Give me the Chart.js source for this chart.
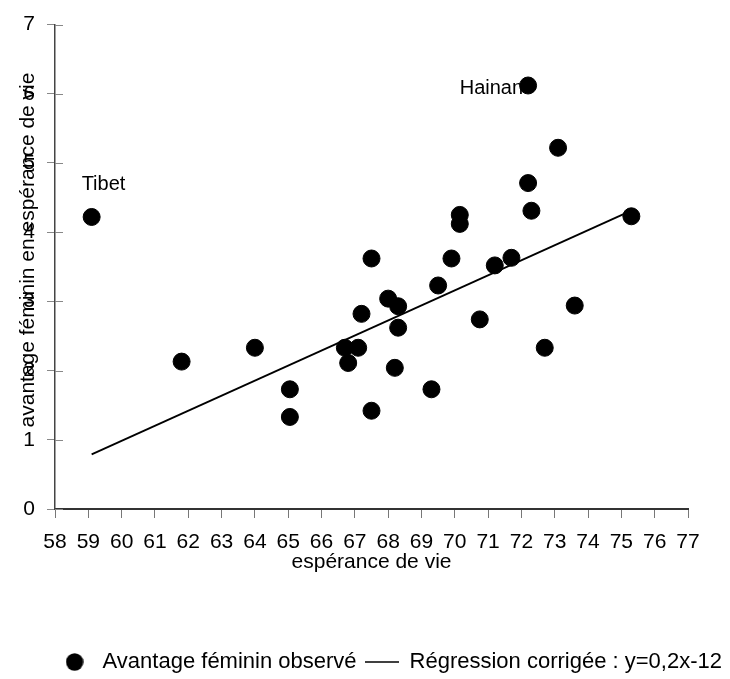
<!DOCTYPE html>
<html>
<head>
<meta charset="utf-8">
<script src="https://cdn.jsdelivr.net/npm/chart.js@4.4.1/dist/chart.umd.min.js"></script>
<style>
  html, body { margin: 0; padding: 0; background: #fff; }
</style>
</head>
<body>
<canvas id="myChart" width="730" height="679"></canvas>
<script>
// espérance de vie (x) / avantage féminin (y), une valeur par province
const esperance = [59.1, 72.2, 73.1, 72.2, 72.3, 70.15, 70.15, 75.3, 67.5, 69.9,
                   71.2, 71.7, 69.5, 68.0, 68.3, 67.2, 68.3, 70.75, 73.6, 72.7,
                   61.8, 64.0, 66.7, 67.1, 66.8, 68.2, 65.05, 65.05, 67.5, 69.3];
const avantage  = [4.22, 6.12, 5.22, 4.71, 4.31, 4.25, 4.12, 4.23, 3.62, 3.62,
                   3.52, 3.63, 3.23, 3.04, 2.93, 2.82, 2.62, 2.74, 2.94, 2.33,
                   2.13, 2.33, 2.33, 2.33, 2.11, 2.04, 1.73, 1.33, 1.42, 1.73];
// provinces nommées sur le graphique (indice dans les tableaux ci-dessus)
const nomsProvinces = ['Tibet', 'Hainan'];
const indicesNoms   = [0, 1];
// droite de régression (extrémités)
const regX = [59.1, 75.25];
const regY = [0.79, 4.3];

const series = ['Avantage féminin observé', 'Régression corrigée : y=0,2x-12'];
const titreY = 'avantage féminin en espérance de vie';

const POLICE = "'Liberation Sans', Arial, sans-serif";
Chart.defaults.font.family = POLICE;
Chart.defaults.font.size = 21;
Chart.defaults.color = '#000';

// symboles de la légende
const pastille = document.createElement('canvas');
pastille.width = 18; pastille.height = 18;
(function() {
  const c = pastille.getContext('2d');
  c.fillStyle = '#000';
  c.beginPath(); c.arc(9, 9, 8.7, 0, Math.PI * 2); c.fill();
})();
const trait = document.createElement('canvas');
trait.width = 34; trait.height = 4;
(function() {
  const c = trait.getContext('2d');
  c.strokeStyle = '#000'; c.lineWidth = 1.5;
  c.beginPath(); c.moveTo(0, 2); c.lineTo(34, 2); c.stroke();
})();

// noms des provinces, graduations intérieures de l'axe y, titre vertical
const etiquettes = {
  id: 'etiquettes',
  beforeDatasetsDraw(chart) {
    const {ctx, scales: {x, y}} = chart;
    ctx.save();
    // petites graduations côté intérieur
    ctx.strokeStyle = '#888';
    ctx.lineWidth = 1;
    y.ticks.forEach(t => {
      const py = Math.round(y.getPixelForValue(t.value)) + 0.5;
      ctx.beginPath(); ctx.moveTo(x.left, py); ctx.lineTo(x.left + 8, py); ctx.stroke();
    });
    ctx.font = '20px ' + POLICE;
    ctx.fillStyle = '#000';
    ctx.textBaseline = 'middle';
    indicesNoms.forEach((idx, k) => {
      const px = x.getPixelForValue(esperance[idx]);
      const py = y.getPixelForValue(avantage[idx]);
      if (k === 0) {
        ctx.textAlign = 'left';
        ctx.fillText(nomsProvinces[k], px - 10, py - 32);
      } else {
        ctx.textAlign = 'right';
        ctx.fillText(nomsProvinces[k], px - 5, py + 3);
      }
    });
    ctx.restore();
  },
  afterDraw(chart) {
    const ctx = chart.ctx;
    ctx.save();
    ctx.font = '21px ' + POLICE;
    ctx.fillStyle = '#000';
    ctx.textAlign = 'center';
    ctx.textBaseline = 'middle';
    ctx.translate(28, 250);
    ctx.rotate(-Math.PI / 2);
    ctx.fillText(titreY, 0, 0);
    ctx.restore();
  }
};

new Chart(document.getElementById('myChart').getContext('2d'), {
  type: 'scatter',
  data: {
    datasets: [{
      label: series[0],
      data: esperance.map((v, i) => ({x: v, y: avantage[i]})),
      backgroundColor: '#000',
      borderColor: '#000',
      pointRadius: 8.5,
      pointBorderWidth: 1,
      order: 1
    }, {
      type: 'line',
      label: series[1],
      data: regX.map((v, i) => ({x: v, y: regY[i]})),
      borderColor: '#000',
      borderWidth: 1.8,
      pointRadius: 0,
      fill: false,
      order: 2
    }]
  },
  plugins: [etiquettes],
  options: {
    responsive: false,
    animation: false,
    layout: { padding: { left: 0, right: 0, top: 22, bottom: -4 } },
    scales: {
      x: {
        type: 'linear', min: 58, max: 77,
        ticks: { stepSize: 1, padding: 12, autoSkip: false, maxRotation: 0 },
        grid: { drawOnChartArea: false, tickLength: 9, color: '#777' },
        border: { color: '#333', width: 2 },
        title: { display: true, text: 'espérance de vie', padding: { top: 0, bottom: 68 } },
        afterFit: s => { s.height = 134; }
      },
      y: {
        min: 0, max: 7,
        ticks: { stepSize: 1, padding: 12 },
        grid: { drawOnChartArea: false, tickLength: 8, color: '#888' },
        border: { color: '#444', width: 1.5 },
        afterFit: s => { s.width = 55; }
      },
      droite: {
        type: 'linear', position: 'right',
        grid: { display: false }, ticks: { display: false }, border: { display: false },
        afterFit: s => { s.width = 42; }
      }
    },
    plugins: {
      tooltip: { enabled: false },
      legend: {
        position: 'bottom',
        align: 'end',
        labels: {
          usePointStyle: true,
          pointStyleWidth: 34,
          padding: 8,
          font: { size: 22 },
          generateLabels: chart => chart.data.datasets.map((ds, i) => ({
            text: ds.label,
            pointStyle: i === 0 ? pastille : trait,
            fillStyle: '#000',
            strokeStyle: '#000',
            lineWidth: 0,
            hidden: false,
            datasetIndex: i
          }))
        }
      }
    }
  }
});
</script>
</body>
</html>
